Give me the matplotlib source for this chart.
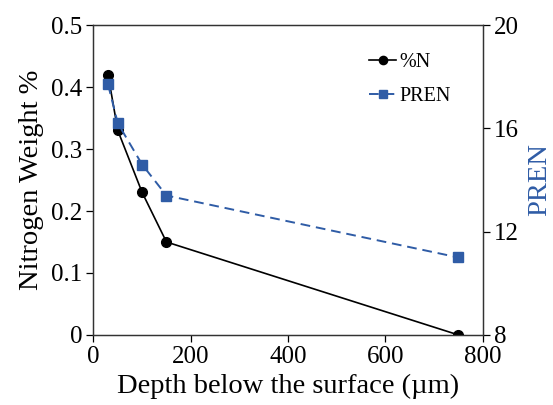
import matplotlib
matplotlib.use("Agg")
import matplotlib.pyplot as plt

# depth below surface (um)
depth = [30, 50, 100, 150, 750]
# nitrogen weight %
nitrogen = [0.42, 0.33, 0.23, 0.15, 0.0]
# pitting resistance equivalent number
pren = [17.7, 16.2, 14.6, 13.4, 11.0]

blue = "#2F5CA6"

plt.rcParams['font.family'] = ['Liberation Serif', 'DejaVu Serif']

fig = plt.figure(figsize=(5.53, 4.05), dpi=100)
ax = fig.add_axes([0.169, 0.173, 0.704, 0.765])
ax2 = ax.twinx()

ln1, = ax.plot(depth, nitrogen, color='black', lw=1.2, marker='o', ms=7, label='%N', zorder=3)
ln2, = ax2.plot(depth, pren, color=blue, lw=1.4, ls=(0, (5, 3)), marker='s', ms=6.5, label='PREN', zorder=3)

ax.set_xlim(0, 800)
ax.set_ylim(0, 0.5)
ax2.set_ylim(8, 20)
ax.set_xticks([0, 200, 400, 600, 800])
ax.set_yticks([0, 0.1, 0.2, 0.3, 0.4, 0.5])
ax.set_yticklabels(['0', '0.1', '0.2', '0.3', '0.4', '0.5'])
ax2.set_yticks([8, 12, 16, 20])

for a in (ax, ax2):
    a.tick_params(labelsize=18, length=5, width=0.9, colors='black', pad=3)
    for s in a.spines.values():
        s.set_linewidth(0.9)
        s.set_color('#333333')

ax.set_xlabel('Depth below the surface (\u00b5m)', fontsize=20.5, labelpad=4)
ax.set_ylabel('Nitrogen Weight %', fontsize=20.5, labelpad=5)
ax2.set_ylabel('PREN', fontsize=20.5, color=blue, labelpad=6)

leg = ax.legend([ln1, ln2], ['%N', 'PREN'], loc='upper right', bbox_to_anchor=(0.965, 0.97),
                frameon=False, fontsize=14.5, handlelength=1.3, handletextpad=0.2,
                labelspacing=0.75, markerscale=0.85)

fig.savefig('out.png', dpi=100)
